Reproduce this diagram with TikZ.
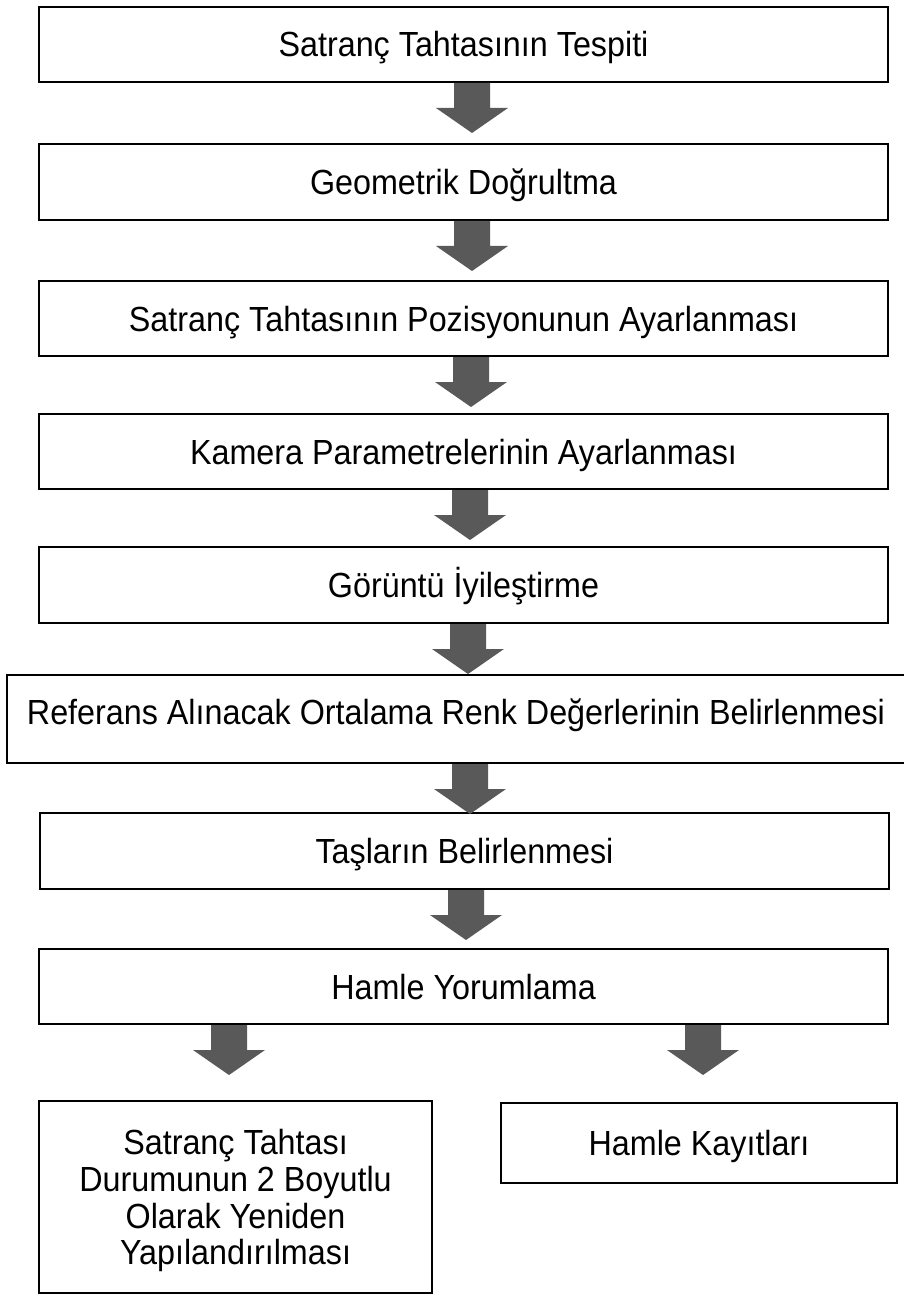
\documentclass[tikz,border=0pt]{standalone}
\usepackage{fontspec}
\usepackage{graphicx}
\setmainfont{Liberation Sans}
\usetikzlibrary{calc}
\definecolor{arrowgray}{HTML}{595959}
\newcommand\tall[1]{\scalebox{1}[1.08]{#1}}
\tikzset{
  stagebox/.style={draw=black, line width=2pt, fill=white, rectangle, inner sep=0pt, outer sep=0pt,
    align=center, font=\fontsize{32.3}{36.7}\selectfont, text height=25pt, text depth=0pt},
  blockarrow/.style={fill=arrowgray}
}
% block arrow from node #1 toward node #2, centred on x = #3
\newcommand\blockarr[3]{%
  \fill[blockarrow] let \p1=(#1.south) in
    (#3-18,\y1-1pt) -- (#3+18,\y1-1pt) -- (#3+18,\y1-26pt) -- (#3+36,\y1-26pt)
    -- (#3,\y1-51pt) -- (#3-36,\y1-26pt) -- (#3-18,\y1-26pt) -- cycle;}
\begin{document}
\begin{tikzpicture}[x=1pt,y=1pt]
\useasboundingbox (0,0) rectangle (903,-1297);
\node[stagebox, minimum width=849, minimum height=75] (b1) at (463.5,-44.5) {\tall{Satranç Tahtasının Tespiti}};
\node[stagebox, minimum width=849, minimum height=76] (b2) at (463.5,-182) {\tall{Geometrik Doğrultma}};
\node[stagebox, minimum width=849, minimum height=75] (b3) at (463.5,-318.5) {\tall{Satranç Tahtasının Pozisyonunun Ayarlanması}};
\node[stagebox, minimum width=849, minimum height=75] (b4) at (463.5,-451.5) {\tall{Kamera Parametrelerinin Ayarlanması}};
\node[stagebox, minimum width=849, minimum height=76] (b5) at (463.5,-585) {\tall{Görüntü İyileştirme}};
\node[stagebox, minimum width=898, minimum height=88, text depth=14pt] (b6) at (456,-719) {\tall{Referans Alınacak Ortalama Renk Değerlerinin Belirlenmesi}};
\node[stagebox, minimum width=849, minimum height=76] (b7) at (464.5,-851) {\tall{Taşların Belirlenmesi}};
\node[stagebox, minimum width=849, minimum height=75] (b8) at (463.5,-986.5) {\tall{Hamle Yorumlama}};
\node[stagebox, minimum width=393, minimum height=192, text height=, text depth=0pt] (b9) at (235.5,-1197) {\tall{Satranç Tahtası}\\\tall{Durumunun 2 Boyutlu}\\\tall{Olarak Yeniden}\\\tall{Yapılandırılması}};
\node[stagebox, minimum width=396, minimum height=80] (b10) at (699,-1143) {\tall{Hamle Kayıtları}};
\blockarr{b1}{b2}{472}
\blockarr{b2}{b3}{472}
\blockarr{b3}{b4}{471}
\blockarr{b4}{b5}{470}
\blockarr{b5}{b6}{468}
\blockarr{b6}{b7}{470}
\blockarr{b7}{b8}{466}
\blockarr{b8}{b9}{229}
\blockarr{b8}{b10}{703}
\end{tikzpicture}
\end{document}
